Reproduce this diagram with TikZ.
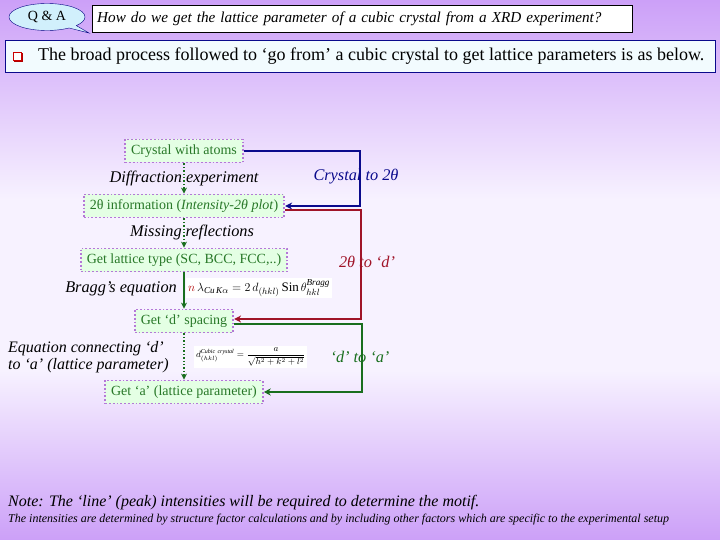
\documentclass[tikz,border=0pt]{standalone}
\usepackage{fontspec}
\setmainfont{Liberation Serif}
\usetikzlibrary{arrows.meta, shapes.callouts}
\definecolor{bgpurple}{RGB}{204,160,248}
\definecolor{bglight}{RGB}{247,242,255}
\definecolor{stagefill}{RGB}{228,255,228}
\definecolor{stagedraw}{RGB}{180,120,215}
\definecolor{stagetext}{RGB}{40,120,40}
\definecolor{navyline}{RGB}{10,10,140}
\definecolor{redline}{RGB}{160,20,40}
\definecolor{greenline}{RGB}{25,110,30}
\tikzset{
    stage/.style={draw=stagedraw, dotted, line width=1.8pt, fill=stagefill,
        text=stagetext, font=\fontsize{14}{16}\selectfont, minimum height=23pt, inner xsep=6pt},
    how/.style={font=\fontsize{16.3}{18}\selectfont\itshape, inner sep=1pt},
    eqbox/.style={fill=white, inner sep=2pt},
    flow/.style={draw=greenline, line width=1.4pt, -{Stealth[length=6pt,width=6pt]}},
    link/.style={line width=1.6pt, -{Stealth[length=7pt,width=7pt]}}
}

\begin{document}
\begin{tikzpicture}[x=1pt, y=-1pt]
    \useasboundingbox (0,0) rectangle (720,540);
    \shade[top color=bgpurple, bottom color=bglight] (0,0) rectangle (720,200);
    \fill[bglight] (0,200) rectangle (720,370);
    \shade[top color=bglight, bottom color=bgpurple] (0,370) rectangle (720,540);

    % header
    \node[ellipse callout, draw=blue!50!black, fill=cyan!18, minimum width=76pt, minimum height=27pt,
        inner sep=0pt, callout absolute pointer={(89,33)}, font=\fontsize{14}{16}\selectfont] (qa) at (47,17) {Q \& A};
    \node[draw=black, fill=white, anchor=north west, minimum width=540pt, minimum height=27pt,
        text width=530pt, align=left, font=\fontsize{15.2}{17}\selectfont\itshape] (question) at (92,5)
        {How do we get the lattice parameter of a cubic crystal from a XRD experiment?};
    \node[draw=navyline, line width=1pt, fill=cyan!5, anchor=north west, minimum width=710pt,
        minimum height=32pt] (process) at (5,40) {};
    \node[fill=red!70!black, minimum size=9pt, inner sep=0pt] (bulletshadow) at (18.5,57.5) {};
    \node[draw=red!80!black, line width=0.8pt, fill=white, minimum size=8pt, inner sep=0pt] (bullet) at (17,56) {};
    \node[anchor=west, font=\fontsize{18}{20}\selectfont, inner sep=0pt] (processtext) at (38,56)
        {The broad process followed to ‘go from’ a cubic crystal to get lattice parameters is as below.};

    % flow chart
    \node[stage] (crystal) at (184,151) {Crystal with atoms};
    \node[how] (diffraction) at (184,178) {Diffraction experiment};
    \node[stage] (info) at (184,206) {2θ information (\textit{Intensity-2θ plot})};
    \node[how] (missing) at (192,232) {Missing reflections};
    \node[stage] (lattice) at (184,260) {Get lattice type (SC, BCC, FCC,..)};
    \node[how, anchor=east] (bragg) at (178,289) {Bragg’s equation};
    \node[eqbox, anchor=west, font=\fontsize{13}{15}\selectfont] (braggeq) at (186,288)
        {$\color{red!70!black}n\,\color{black}\lambda_{\mathit{Cu\,K\alpha}} = 2\,d_{(hkl)}\,\mathrm{Sin}\,\theta_{hkl}^{\mathit{Bragg}}$};
    \node[stage] (dspace) at (184,321) {Get ‘d’ spacing};
    \node[how, align=left, anchor=west, font=\fontsize{16}{17}\selectfont\itshape] (connect) at (7,357)
        {Equation connecting ‘d’\\to ‘a’ (lattice parameter)};
    \node[eqbox, anchor=west, font=\fontsize{9}{11}\selectfont] (cubiceq) at (194,357)
        {$\displaystyle d_{(hkl)}^{\mathit{Cubic\ crystal}} = \frac{a}{\sqrt{h^2+k^2+l^2}}$};
    \node[stage] (aparam) at (184,392) {Get ‘a’ (lattice parameter)};

    \draw[flow, dotted] (crystal) -- (info);
    \draw[flow, dotted] (info) -- (lattice);
    \draw[flow] (lattice) -- (dspace);
    \draw[flow, dotted] (dspace) -- (aparam);

    % stages of the process
    \draw[link, navyline] (crystal.east) -- ++(116,0) |- (info.east);
    \draw[link, redline] ([yshift=-4pt]info.east) -- ++(76,0) |- ([yshift=2pt]dspace.east);
    \draw[link, greenline] ([yshift=-3pt]dspace.east) -- ++(128,0) |- (aparam.east);
    \node[how, text=navyline] (crystalto) at (356,177) {Crystal to 2θ};
    \node[how, text=redline] (thetato) at (367,262) {2θ to ‘d’};
    \node[how, text=greenline] (dto) at (360,357) {‘d’ to ‘a’};

    % note
    \node[anchor=west, inner sep=0pt, font=\fontsize{16}{18}\selectfont\itshape] (note) at (8,503)
        {Note: The ‘line’ (peak) intensities will be required to determine the motif.};
    \node[anchor=west, inner sep=0pt, font=\fontsize{12}{14}\selectfont\itshape] (notesmall) at (8,520)
        {The intensities are determined by structure factor calculations and by including other factors which are specific to the experimental setup};
\end{tikzpicture}
\end{document}
